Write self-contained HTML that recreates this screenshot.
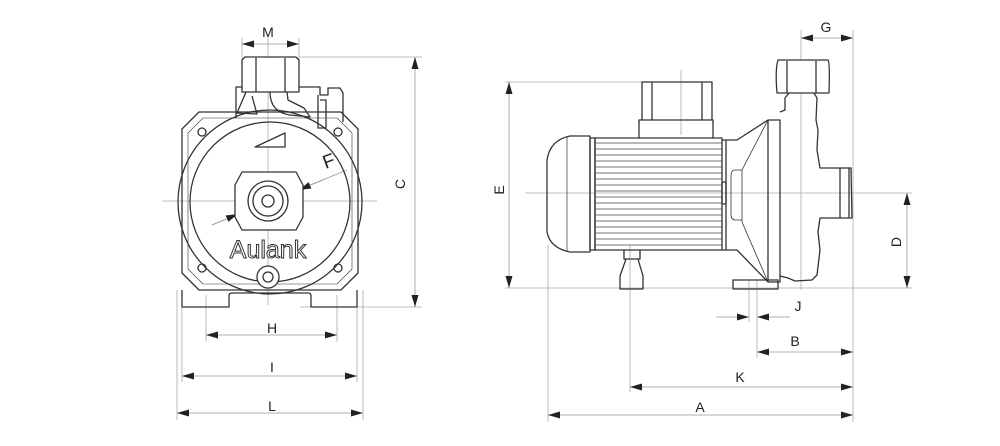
<!DOCTYPE html>
<html><head><meta charset="utf-8"><style>
html,body{margin:0;padding:0;background:#fff;}
svg{display:block}
text{font-family:"Liberation Sans",sans-serif;font-size:14px;fill:#222}
</style></head><body>
<svg width="1000" height="446" viewBox="0 0 1000 446" xmlns="http://www.w3.org/2000/svg">
<defs>
<marker id="a" viewBox="0 0 12 7" refX="12" refY="3.5" markerWidth="12" markerHeight="7" orient="auto-start-reverse" markerUnits="userSpaceOnUse"><path d="M0,0L12,3.5L0,7z" fill="#222"/></marker>
</defs>
<g stroke="#aaa" stroke-width="0.8" fill="none">
<line x1="242" y1="38" x2="242" y2="60"/><line x1="299" y1="38" x2="299" y2="60"/>
<line x1="299" y1="57" x2="422" y2="57"/><line x1="300" y1="307" x2="422" y2="307"/>
<line x1="162" y1="201" x2="377" y2="201"/><line x1="268" y1="36" x2="268" y2="305"/>
<line x1="177" y1="290" x2="177" y2="420"/><line x1="182" y1="290" x2="182" y2="382"/>
<line x1="206" y1="295" x2="206" y2="342"/><line x1="337" y1="295" x2="337" y2="342"/>
<line x1="357" y1="290" x2="357" y2="382"/><line x1="363" y1="290" x2="363" y2="420"/>
<line x1="505" y1="82" x2="712" y2="82"/><line x1="505" y1="288" x2="912" y2="288"/>
<line x1="525" y1="193" x2="912" y2="193"/>
<line x1="681" y1="70" x2="681" y2="135"/>
<line x1="801" y1="30" x2="801" y2="290"/><line x1="853" y1="30" x2="853" y2="422"/>
<line x1="749" y1="280" x2="749" y2="322"/><line x1="757" y1="280" x2="757" y2="358"/>
<line x1="630" y1="245" x2="630" y2="392"/><line x1="548" y1="245" x2="548" y2="422"/>
</g>
<g stroke="#999" stroke-width="0.8" fill="none">
<line x1="242" y1="44" x2="299" y2="44" marker-start="url(#a)" marker-end="url(#a)"/>
<line x1="415" y1="57" x2="415" y2="307" marker-start="url(#a)" marker-end="url(#a)"/>
<line x1="206" y1="335" x2="337" y2="335" marker-start="url(#a)" marker-end="url(#a)"/>
<line x1="182" y1="376" x2="357" y2="376" marker-start="url(#a)" marker-end="url(#a)"/>
<line x1="177" y1="413" x2="363" y2="413" marker-start="url(#a)" marker-end="url(#a)"/>
<line x1="509" y1="82" x2="509" y2="288" marker-start="url(#a)" marker-end="url(#a)"/>
<line x1="907" y1="193" x2="907" y2="288" marker-start="url(#a)" marker-end="url(#a)"/>
<line x1="801" y1="38" x2="853" y2="38" marker-start="url(#a)" marker-end="url(#a)"/>
<line x1="716" y1="317" x2="749" y2="317" marker-end="url(#a)"/>
<line x1="790" y1="317" x2="757" y2="317" marker-end="url(#a)"/>
<line x1="757" y1="352" x2="853" y2="352" marker-start="url(#a)" marker-end="url(#a)"/>
<line x1="630" y1="387" x2="853" y2="387" marker-start="url(#a)" marker-end="url(#a)"/>
<line x1="548" y1="415" x2="853" y2="415" marker-start="url(#a)" marker-end="url(#a)"/>
<line x1="212" y1="225" x2="347" y2="170"/>
</g>
<g stroke="#999" stroke-width="0.8"><line x1="212" y1="225" x2="238" y2="214" marker-end="url(#a)"/><line x1="325" y1="179" x2="299" y2="190" marker-end="url(#a)"/></g>
<g text-anchor="middle">
<text x="268" y="37">M</text>
<text x="272" y="333">H</text><text x="272" y="372">I</text><text x="272" y="411">L</text>
<text x="826" y="32">G</text><text x="798" y="311">J</text><text x="795" y="346">B</text>
<text x="740" y="382">K</text><text x="700" y="412">A</text>
<text x="0" y="0" transform="translate(405,184) rotate(-90)">C</text>
<text x="0" y="0" transform="translate(504,190) rotate(-90)">E</text>
<text x="0" y="0" transform="translate(901,242) rotate(-90)">D</text>
<text x="0" y="0" style="font-size:19px" transform="translate(331,167) rotate(-20)">F</text>
</g>
<g stroke="#333" stroke-width="1.3" fill="none" stroke-linejoin="round">
<path d="M199,112 L341,112 L358,129 L358,273 L341,290 L199,290 L182,273 L182,129Z"/>
<path d="M203,118 L337,118 L352,133 L352,269 L337,284 L203,284 L188,269 L188,133Z" stroke-width="0.6"/>
<circle cx="270" cy="202" r="92"/>
<circle cx="270" cy="202" r="80"/>
<circle cx="202" cy="132" r="4"/><circle cx="338" cy="132" r="4"/>
<circle cx="202" cy="268" r="4"/><circle cx="338" cy="268" r="4"/>
<path d="M182,290 L182,307 L229,307 L229,296 Q229,293 232,293 L308,293 Q311,293 311,296 L311,307 L357,307 L357,290"/>
<path d="M255,147 L285,133 L285,147Z" fill="#fff"/>
<path d="M242,172 L296,172 L303,185 L303,217 L296,230 L242,230 L235,217 L235,185Z" fill="#fff"/>
<circle cx="268" cy="201" r="20"/><circle cx="268" cy="201" r="15"/><circle cx="268" cy="201" r="6"/>
<circle cx="268" cy="277" r="11" fill="#fff"/><circle cx="268" cy="277" r="5"/>
<path d="M236,118 L236,87 L320,87 L320,95 L328,95 L328,88 L340,88 L343,93 L343,122"/>
<path d="M242,60 L245,57 L296,57 L299,60 L299,92 L242,92Z" fill="#fff"/>
<line x1="256" y1="58" x2="256" y2="92"/><line x1="285" y1="58" x2="285" y2="92"/>
<path d="M246,92 L237,113 L257,114 L252,96"/>
<path d="M270,92 Q270,112 290,115 L310,117 L304,108 L288,100 L287,92"/>
<path d="M318,95 L318,128 L326,128 L326,100 L320,100"/>
</g>
<text x="268" y="258" text-anchor="middle" style="font-size:25px;fill:#fff;stroke:#333;stroke-width:1">Aulank</text>
<g stroke="#333" stroke-width="1.3" fill="none" stroke-linejoin="round">
<path d="M590,136 L570,136 Q550,140 547,160 L547,232 Q550,248 570,252 L590,252Z"/>
<line x1="567" y1="137" x2="567" y2="251" stroke-width="0.7"/>
<rect x="590" y="138" width="5" height="112"/>
<rect x="595" y="138" width="127" height="112"/>
<path d="M639,138 L639,120 L713,120 L713,138"/>
<path d="M642,120 L642,82 L712,82 L712,120"/>
<line x1="652" y1="82" x2="652" y2="120"/><line x1="702" y1="82" x2="702" y2="120"/>
<path d="M722,140 L737,140 L768,120 L768,282 L737,250 L722,250"/>
<line x1="726" y1="140" x2="726" y2="250"/>
<path d="M768,120 L742,170 L742,222 L768,282" stroke-width="0.8"/>
<path d="M742,170 L735,170 Q731,170 731,176 L731,214 Q731,220 735,220 L742,220" stroke-width="0.8"/>
<rect x="722" y="182" width="4" height="22"/>
<path d="M768,120 L780,120 L780,282 L768,282"/>
<path d="M780,112 L785,110 L785,98 L789,93 M814,93 L817,98 L816,120 L818,130 L817,150 L820,168 L840,168 L840,218 L820,218 L818,232 L820,250 L817,275 L812,280 L795,281 L788,278 L780,276"/>
<path d="M778,60 L828,60 Q830,62 829,93 L777,93 Q775,70 778,60Z" fill="#fff"/>
<line x1="787" y1="61" x2="787" y2="93"/><line x1="816" y1="61" x2="816" y2="93"/>
<path d="M840,168 L851,168 L852,218 L840,218"/><line x1="849" y1="168" x2="849" y2="218"/>
<path d="M733,280 L778,280 L778,289 L733,289Z"/>
<path d="M624,250 L624,259 L640,259 L640,250 M626,259 L620,276 L620,289 L643,289 L643,276 L638,259"/>
</g>
<g stroke="#444" stroke-width="0.8">
<line x1="595" y1="143" x2="722" y2="143"/><line x1="595" y1="149" x2="722" y2="149"/>
<line x1="595" y1="155" x2="722" y2="155"/><line x1="595" y1="161" x2="722" y2="161"/>
<line x1="595" y1="167" x2="722" y2="167"/><line x1="595" y1="173" x2="722" y2="173"/>
<line x1="595" y1="179" x2="722" y2="179"/><line x1="595" y1="185" x2="722" y2="185"/>
<line x1="595" y1="191" x2="722" y2="191"/><line x1="595" y1="197" x2="722" y2="197"/>
<line x1="595" y1="203" x2="722" y2="203"/><line x1="595" y1="209" x2="722" y2="209"/>
<line x1="595" y1="215" x2="722" y2="215"/><line x1="595" y1="221" x2="722" y2="221"/>
<line x1="595" y1="227" x2="722" y2="227"/><line x1="595" y1="233" x2="722" y2="233"/>
<line x1="595" y1="239" x2="722" y2="239"/><line x1="595" y1="245" x2="722" y2="245"/>
</g>
</svg>
</body></html>
